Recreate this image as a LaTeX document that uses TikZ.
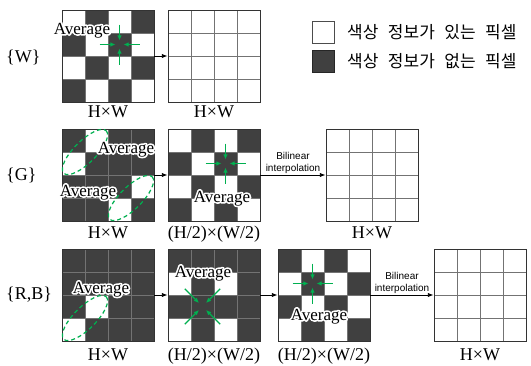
\documentclass[tikz,border=0pt]{standalone}
\usepackage{fontspec}
\setmainfont{Liberation Serif}
\newfontfamily\kofont[WordSpace=2.5]{Noto Sans CJK KR}
\newfontfamily\notesans{Liberation Sans}
\usetikzlibrary{arrows.meta,positioning}
\definecolor{avggreen}{RGB}{0,176,80}
\definecolor{pixdark}{RGB}{64,64,64}

\tikzset{
  celldark/.style={fill=pixdark},
  cellwhite/.style={fill=white},
  cellline/.style={draw=black!55,line width=0.7pt},
  gridbox/.style={draw=black!80,line width=0.9pt,minimum size=92pt,inner sep=0pt},
  flow/.style={-{Latex[length=2mm]},line width=0.8pt},
  avgarrow/.style={draw=avggreen,line width=1.4pt,-{Latex[length=1.8mm,width=1.6mm]}},
  avgring/.style={draw=avggreen,line width=1.2pt,dash pattern=on 4pt off 3pt},
  avglabel/.style={font=\fontsize{17}{20}\selectfont,inner sep=0pt,anchor=base},
  sizelabel/.style={font=\fontsize{18}{20}\selectfont,inner sep=0pt,text height=12pt,text depth=4pt},
  rowlabel/.style={font=\fontsize{18}{20}\selectfont,inner sep=0pt,anchor=west},
  interp/.style={font=\notesans\fontsize{10}{11.5}\selectfont,align=center,inner sep=1.5pt},
  legbox/.style={minimum size=22pt,inner sep=0pt,line width=0.8pt},
  legtext/.style={font=\kofont\fontsize{17}{19}\selectfont,anchor=west,inner sep=0pt}
}

% name, x, y, base fill, other fill, cells of the other fill
\newcommand{\pixgrid}[6]{%
  \begin{scope}[shift={(#2,#3)}]
    \fill[#4] (0,0) rectangle (92,92);
    \foreach \c/\r in {#6} \fill[#5] (\c*23,\r*23) rectangle ++(23,23);
    \foreach \i in {1,2,3} {
      \draw[cellline] (\i*23,0) -- (\i*23,92);
      \draw[cellline] (0,\i*23) -- (92,\i*23);
    }
    \node[gridbox] (#1) at (46,46) {};
  \end{scope}}
% white halo: stroke the word in white, then set it again on top
\newcommand{\avgword}{\leavevmode\rlap{\special{pdf:literal direct 2 Tr 3.4 w 1 j}\textcolor{white}{Average}\special{pdf:literal direct 0 Tr}}Average}

\begin{document}
\begin{tikzpicture}[x=1pt,y=-1pt]
\useasboundingbox (0,0) rectangle (531,365);

% row {W}
\node[rowlabel] (lw) at (6,57) {\{W\}};
\pixgrid{gw1}{62}{10}{cellwhite}{celldark}{1/0,3/0,0/1,2/1,1/2,3/2,0/3,2/3}
\pixgrid{gw2}{168}{10}{cellwhite}{cellwhite}{0/0}
\draw[flow] (gw1.east) -- (gw2.west);
\coordinate (cw) at (119.5,44.5);
\foreach \a in {0,90,180,270} \draw[avgarrow] (cw) ++(\a:20) -- ++(\a+180:16);
\node[avglabel] (aw) at (82,34) {\avgword};
\node[sizelabel,below=3pt of gw1] (sw1) {H×W};
\node[sizelabel,below=3pt of gw2] (sw2) {H×W};

% legend
\node[legbox,draw=black!70,fill=white] (legw) at (323.5,32.5) {};
\node[legbox,draw=black!85,fill=pixdark] (legd) at (323.5,61) {};
\node[legtext] (tw) at (347,32.5) {색상 정보가 있는 픽셀};
\node[legtext] (td) at (347,61) {색상 정보가 없는 픽셀};

% row {G}
\node[rowlabel] (lg) at (6,175) {\{G\}};
\pixgrid{gg1}{62}{129}{celldark}{cellwhite}{1/0,0/1,3/2,2/3}
\pixgrid{gg2}{168}{129}{cellwhite}{celldark}{1/0,3/0,0/1,2/1,1/2,3/2,0/3,2/3}
\pixgrid{gg3}{326}{129}{cellwhite}{cellwhite}{0/0}
\draw[flow] (gg1.east) -- (gg2.west);
\draw[flow] (gg2.east) -- node[interp,above] {Bilinear\\interpolation} (gg3.west);
\draw[avgring] (85,152) ellipse [x radius=30,y radius=11,rotate=45];
\draw[avgring] (131,198) ellipse [x radius=30,y radius=11,rotate=45];
\coordinate (cg) at (225.5,163.5);
\foreach \a in {0,90,180,270} \draw[avgarrow] (cg) ++(\a:20) -- ++(\a+180:16);
\node[avglabel] (ag1) at (126,153) {\avgword};
\node[avglabel] (ag2) at (88,196) {\avgword};
\node[avglabel] (ag3) at (222,202) {\avgword};
\node[sizelabel,below=5pt of gg1] (sg1) {H×W};
\node[sizelabel,below=5pt of gg2] (sg2) {(H/2)×(W/2)};
\node[sizelabel,below=5pt of gg3] (sg3) {H×W};

% row {R,B}
\node[rowlabel] (lrb) at (6,295) {\{R,B\}};
\pixgrid{grb1}{62}{249}{celldark}{cellwhite}{1/2,0/3}
\pixgrid{grb2}{168}{249}{celldark}{cellwhite}{0/1,2/1,0/3,2/3}
\pixgrid{grb3}{278}{249}{cellwhite}{celldark}{0/0,2/0,1/1,3/1,0/2,2/2,1/3,3/3}
\pixgrid{grb4}{434}{249}{cellwhite}{cellwhite}{0/0}
\draw[flow] (grb1.east) -- (grb2.west);
\draw[flow] (grb2.east) -- (grb3.west);
\draw[flow] (grb3.east) -- node[interp,above] {Bilinear\\interpolation} (grb4.west);
\draw[avgring] (85,318) ellipse [x radius=30,y radius=11,rotate=45];
\coordinate (crb) at (202.5,306.5);
\foreach \a in {45,135,225,315} \draw[avgarrow] (crb) ++(\a:25) -- ++(\a+180:20);
\coordinate (crb3) at (312.5,283.5);
\foreach \a in {0,90,180,270} \draw[avgarrow] (crb3) ++(\a:20) -- ++(\a+180:16);
\node[avglabel] (arb1) at (101,293) {\avgword};
\node[avglabel] (arb2) at (203,277) {\avgword};
\node[avglabel] (arb3) at (319,320) {\avgword};
\node[sizelabel,below=7pt of grb1] (srb1) {H×W};
\node[sizelabel,below=7pt of grb2] (srb2) {(H/2)×(W/2)};
\node[sizelabel,below=7pt of grb3] (srb3) {(H/2)×(W/2)};
\node[sizelabel,below=7pt of grb4] (srb4) {H×W};
\end{tikzpicture}
\end{document}
